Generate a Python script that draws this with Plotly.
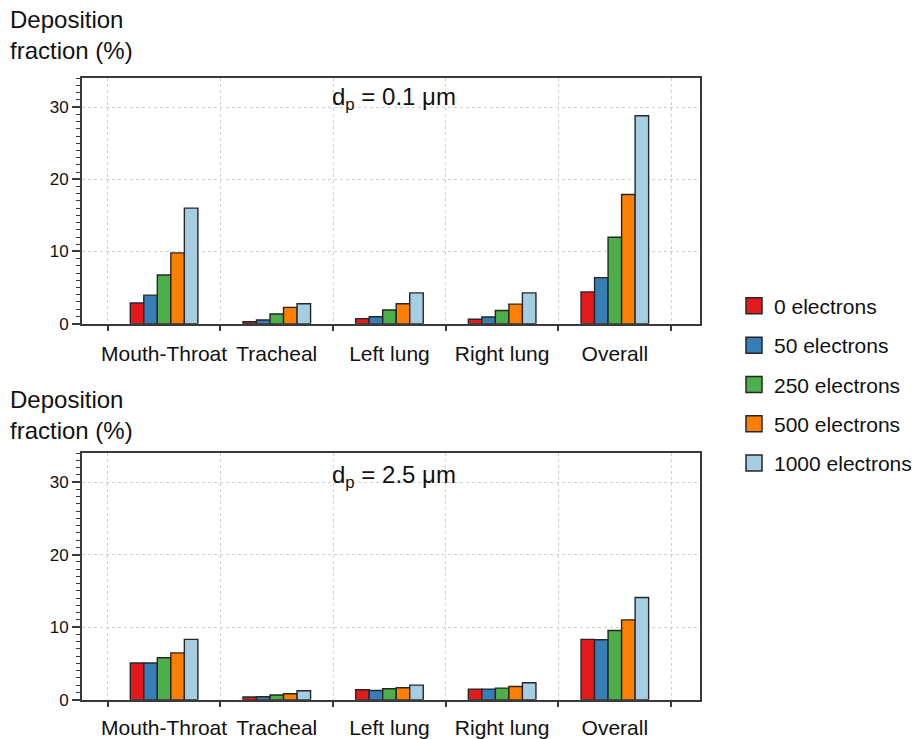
import plotly.graph_objects as go

categories = ["Mouth-Throat", "Tracheal", "Left lung", "Right lung", "Overall"]
series_names = ["0 electrons", "50 electrons", "250 electrons", "500 electrons", "1000 electrons"]
colors = ["#e31a1c", "#377eb8", "#4daf4a", "#ff7f00", "#a6cee3"]

# d_p = 0.1 um : rows = series, columns = categories
top_0 = [2.85, 0.27, 0.69, 0.60, 4.4]
top_50 = [3.95, 0.50, 0.96, 0.92, 6.37]
top_250 = [6.74, 1.33, 1.88, 1.83, 11.97]
top_500 = [9.8, 2.25, 2.75, 2.70, 17.9]
top_1000 = [16.0, 2.75, 4.26, 4.26, 28.8]

# d_p = 2.5 um
bot_0 = [5.05, 0.36, 1.36, 1.45, 8.32]
bot_50 = [5.05, 0.40, 1.27, 1.45, 8.27]
bot_250 = [5.77, 0.64, 1.50, 1.59, 9.55]
bot_500 = [6.45, 0.82, 1.64, 1.82, 11.0]
bot_1000 = [8.32, 1.23, 2.00, 2.32, 14.1]

top_vals = [top_0, top_50, top_250, top_500, top_1000]
bot_vals = [bot_0, bot_50, bot_250, bot_500, bot_1000]

y_ticks = [0, 10, 20, 30]
y_range = [0, 34]

W, H = 917, 739
FONT = "Liberation Sans, Arial, Helvetica, sans-serif"
EDGE = "#262626"

xpos = [i + 0.5 for i in range(len(categories))]

fig = go.Figure()
for vals, xa, ya in [(top_vals, "x", "y"), (bot_vals, "x2", "y2")]:
    for k, name in enumerate(series_names):
        fig.add_trace(go.Bar(
            x=xpos, y=vals[k], name=name, legendgroup=name, showlegend=False,
            marker=dict(color=colors[k], line=dict(color=EDGE, width=1.4)),
            xaxis=xa, yaxis=ya, offsetgroup=str(k),
        ))

# legend entries (square swatches)
for k, name in enumerate(series_names):
    fig.add_trace(go.Scatter(
        x=[None], y=[None], mode="markers", name=name, legendgroup=name,
        marker=dict(symbol="square", size=16, color=colors[k], line=dict(color=EDGE, width=1.5)),
        xaxis="x", yaxis="y", showlegend=True,
    ))

def px_x(p):
    return p / W

def px_y(p):
    # empirical correction of the vertical placement
    q = (p + 2.1) / 0.9888
    return 1 - q / H

xdom = [px_x(82), px_x(702)]
xaxis_common = dict(
    domain=xdom, range=[-0.23, 5.26],
    tickmode="array", tickvals=xpos, ticktext=categories,
    ticks="", showgrid=False, zeroline=False,
    showline=True, linecolor="#3a3a3a", linewidth=1.5, mirror=True,
    tickfont=dict(size=21, color="#111", family=FONT),
    minor=dict(tickmode="array", tickvals=[0, 1, 2, 3, 4, 5], ticks="outside",
               ticklen=6, tickwidth=1.5, tickcolor="#3a3a3a",
               showgrid=True, gridcolor="#cfcfcf", griddash="dot", gridwidth=1),
)
yaxis_common = dict(
    range=y_range, tickmode="array", tickvals=y_ticks,
    ticks="outside", ticklen=8, tickwidth=1.5, tickcolor="#3a3a3a",
    showgrid=True, gridcolor="#cfcfcf", griddash="dot", gridwidth=1,
    zeroline=False, showline=True, linecolor="#3a3a3a", linewidth=1.5, mirror=True,
    tickfont=dict(size=17, color="#111", family=FONT),
    minor=dict(dtick=1, ticks="outside", ticklen=4, tickwidth=1, tickcolor="#3a3a3a", showgrid=False),
)

fig.update_layout(
    width=W, height=H,
    margin=dict(l=0, r=0, t=0, b=0),
    paper_bgcolor="white", plot_bgcolor="white",
    font=dict(family=FONT, color="#111"),
    barmode="group", bargap=0.4, bargroupgap=0,
    xaxis=dict(**xaxis_common, anchor="y", ticklabelstandoff=10),
    yaxis=dict(**yaxis_common, domain=[px_y(325), px_y(77)], anchor="x"),
    xaxis2=dict(**xaxis_common, anchor="y2", ticklabelstandoff=8),
    yaxis2=dict(**yaxis_common, domain=[px_y(705), px_y(456)], anchor="x2"),
    legend=dict(x=px_x(736), y=1 - 292 / H, xanchor="left", yanchor="top",
                font=dict(size=21, color="#111", family=FONT),
                tracegroupgap=9, bgcolor="rgba(0,0,0,0)", itemsizing="trace"),
)

annotations = [
    dict(text="d<sub>p</sub> = 0.1 μm", x=px_x(395), y=px_y(97)),
    dict(text="d<sub>p</sub> = 2.5 μm", x=px_x(395), y=px_y(479)),
]
for a in annotations:
    fig.add_annotation(xref="paper", yref="paper", x=a["x"], y=a["y"], text=a["text"],
                       showarrow=False, xanchor="center", yanchor="middle",
                       font=dict(size=24, color="#111", family=FONT))

for ytop in [4, 392]:
    fig.add_annotation(xref="paper", yref="paper", x=px_x(8), y=1 - ytop / H,
                       text="Deposition<br>fraction (%)", showarrow=False,
                       xanchor="left", yanchor="top", align="left",
                       font=dict(size=24, color="#111", family=FONT))

fig.write_html("out.html")
